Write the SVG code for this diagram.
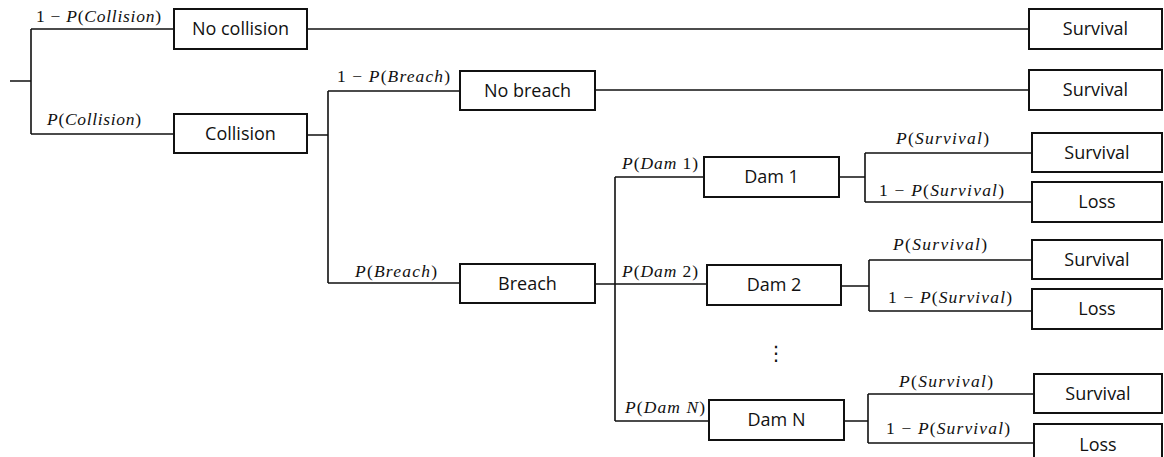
<svg xmlns="http://www.w3.org/2000/svg" width="1164" height="457" viewBox="0 0 1164 457">
<style>
.box{fill:#fff;stroke:#111;stroke-width:2}
.lbl{font-family:"Open Sans","Noto Sans",sans-serif;font-size:18px;fill:#111;text-anchor:middle}
.m{font-family:"Liberation Serif",serif;font-size:17.5px;fill:#111}
.i{font-style:italic}
#connectors path{fill:none;stroke:#111;stroke-width:1.6}
</style>
<rect width="1164" height="457" fill="#fff"/>
<g id="connectors">
<path d="M10 81H31M31 29V134M31 29H174M31 134H174"/>
<path d="M307 29H1029"/>
<path d="M307 135H328M328 91V283M328 91H460M328 283H460"/>
<path d="M595 90H1029"/>
<path d="M595 284H615M615 177V421M615 177H704M615 284H707M615 421H709"/>
<path d="M839 177H865M865 153V202M865 153H1032M865 202H1032"/>
<path d="M841 286H869M869 260V311M869 260H1032M869 311H1032"/>
<path d="M844 421H868M868 394V443M868 394H1034M868 443H1034"/>
</g>
<g id="edge-labels">
<text class="m" x="36" y="22" textLength="125" lengthAdjust="spacing">1 − <tspan class="i">P</tspan>(<tspan class="i">Collision</tspan>)</text>
<text class="m" x="47" y="125" textLength="94" lengthAdjust="spacing"><tspan class="i">P</tspan>(<tspan class="i">Collision</tspan>)</text>
<text class="m" x="337" y="82" textLength="113" lengthAdjust="spacing">1 − <tspan class="i">P</tspan>(<tspan class="i">Breach</tspan>)</text>
<text class="m" x="355" y="277" textLength="82" lengthAdjust="spacing"><tspan class="i">P</tspan>(<tspan class="i">Breach</tspan>)</text>
<text class="m" x="622" y="169" textLength="76" lengthAdjust="spacing"><tspan class="i">P</tspan>(<tspan class="i">Dam</tspan> 1)</text>
<text class="m" x="622" y="277" textLength="76" lengthAdjust="spacing"><tspan class="i">P</tspan>(<tspan class="i">Dam</tspan> 2)</text>
<text class="m" x="625" y="413" textLength="80" lengthAdjust="spacing"><tspan class="i">P</tspan>(<tspan class="i">Dam N</tspan>)</text>
<text class="m" x="896" y="144" textLength="93" lengthAdjust="spacing"><tspan class="i">P</tspan>(<tspan class="i">Survival</tspan>)</text>
<text class="m" x="879" y="196" textLength="125" lengthAdjust="spacing">1 − <tspan class="i">P</tspan>(<tspan class="i">Survival</tspan>)</text>
<text class="m" x="893" y="250" textLength="94" lengthAdjust="spacing"><tspan class="i">P</tspan>(<tspan class="i">Survival</tspan>)</text>
<text class="m" x="888" y="303" textLength="124" lengthAdjust="spacing">1 − <tspan class="i">P</tspan>(<tspan class="i">Survival</tspan>)</text>
<text class="m" x="899" y="387" textLength="94" lengthAdjust="spacing"><tspan class="i">P</tspan>(<tspan class="i">Survival</tspan>)</text>
<text class="m" x="886" y="434" textLength="124" lengthAdjust="spacing">1 − <tspan class="i">P</tspan>(<tspan class="i">Survival</tspan>)</text>
<text x="776" y="360" font-family="DejaVu Sans,sans-serif" font-size="20" fill="#111" text-anchor="middle">⋮</text>
</g>
<g id="no-collision"><rect class="box" x="174" y="9" width="133" height="40"/><text class="lbl" x="240.5" y="35">No collision</text></g>
<g id="collision"><rect class="box" x="174" y="114" width="133" height="39"/><text class="lbl" x="240.5" y="140">Collision</text></g>
<g id="survival-0"><rect class="box" x="1029" y="9" width="133" height="40"/><text class="lbl" x="1095.5" y="35">Survival</text></g>
<g id="no-breach"><rect class="box" x="460" y="71" width="135" height="39"/><text class="lbl" x="527.5" y="97">No breach</text></g>
<g id="survival-1"><rect class="box" x="1029" y="70" width="133" height="40"/><text class="lbl" x="1095.5" y="96">Survival</text></g>
<g id="breach"><rect class="box" x="460" y="264" width="135" height="39"/><text class="lbl" x="527.5" y="290">Breach</text></g>
<g id="dam-1"><rect class="box" x="704" y="157" width="135" height="40"/><text class="lbl" x="771.5" y="183">Dam 1</text></g>
<g id="dam-2"><rect class="box" x="707" y="265" width="134" height="40"/><text class="lbl" x="774" y="291">Dam 2</text></g>
<g id="dam-n"><rect class="box" x="709" y="400" width="135" height="40"/><text class="lbl" x="776.5" y="426">Dam N</text></g>
<g id="survival-d1"><rect class="box" x="1032" y="133" width="130" height="39"/><text class="lbl" x="1097" y="159">Survival</text></g>
<g id="loss-d1"><rect class="box" x="1032" y="182" width="130" height="40"/><text class="lbl" x="1097" y="208">Loss</text></g>
<g id="survival-d2"><rect class="box" x="1032" y="240" width="130" height="39"/><text class="lbl" x="1097" y="266">Survival</text></g>
<g id="loss-d2"><rect class="box" x="1032" y="289" width="130" height="40"/><text class="lbl" x="1097" y="315">Loss</text></g>
<g id="survival-dn"><rect class="box" x="1034" y="374" width="128" height="39"/><text class="lbl" x="1098" y="400">Survival</text></g>
<g id="loss-dn"><rect class="box" x="1034" y="424" width="128" height="40"/><text class="lbl" x="1098" y="451">Loss</text></g>
</svg>
